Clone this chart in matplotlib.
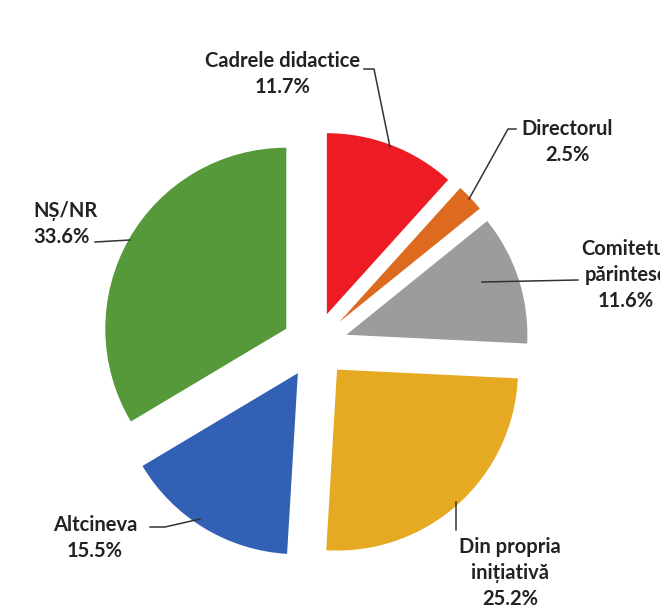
import matplotlib.pyplot as plt

labels = ['Cadrele didactice', 'Directorul', 'Comitetul\npărintesc',
          'Din propria\ninițiativă', 'Altcineva', 'NȘ/NR']
values = [11.7, 2.5, 11.6, 25.2, 15.5, 33.6]
colors = ['#ED1C24', '#DD6A1F', '#9C9C9C', '#E5AA22', '#3260B4', '#55993A']

H = 610
def py(y):
    # pixel row -> data y
    return H - y

fig = plt.figure(figsize=(6.6, 6.1), dpi=100)
ax = fig.add_axes([0, 0, 1, 1])

# explode is in data units here (pixels), not fractions of the radius
ax.pie(values, colors=colors, startangle=90, counterclock=False,
       explode=[33] * len(values), center=(315, py(345)), radius=181,
       wedgeprops=dict(linewidth=0), frame=True)
ax.set_xlim(0, 660)
ax.set_ylim(0, H)
ax.set_aspect('equal')
ax.axis('off')

font = dict(family=['Lato', 'DejaVu Sans'], fontsize=14.5, weight='bold',
            color='#222222', linespacing=1.4)
lc = '#333333'

# label text positions (pixel coords) and leader lines
txt = [
    (283, 74, 'center', 0),
    (567, 142, 'center', 1),
    (626, 275, 'center', 2),
    (33, 224, 'left', 5),
    (95, 538, 'center', 4),
    (510, 573, 'center', 3),
]
for x, y, ha, i in txt:
    ax.text(x, py(y), f'{labels[i]}\n{values[i]}%', ha=ha, va='center', **font)

leaders = [
    [(364, 69), (374, 69), (390, 147)],
    [(516, 129), (508, 129), (469, 199)],
    [(578, 280), (482, 282)],
    [(95, 242), (130, 240)],
    [(150, 527), (165, 527), (200, 519)],
    [(456, 502), (456, 530)],
]
for pts in leaders:
    ax.plot([p[0] for p in pts], [py(p[1]) for p in pts], color=lc, lw=1.1)

fig.savefig('out.png', dpi=100)
